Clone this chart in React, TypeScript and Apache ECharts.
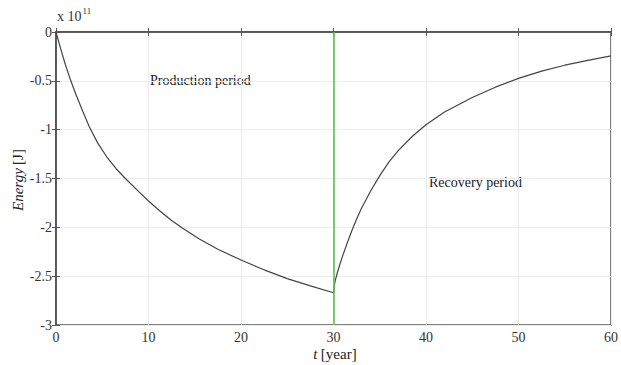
import React, { useEffect, useRef } from "react";
import * as echarts from "echarts";

// Energy in units of 1e11 J
const productionYears = [0, 0.5, 1, 1.6, 2.2, 2.9, 3.6, 4.5, 5.5, 6.5, 7.5, 9, 10, 11.2, 12.5, 13.7, 15.5, 17.5, 20, 22.5, 25, 27.5, 30];
const productionEnergy = [0, -0.17, -0.33, -0.5, -0.65, -0.815, -0.97, -1.135, -1.28, -1.4, -1.5, -1.64, -1.73, -1.83, -1.93, -2.01, -2.12, -2.225, -2.335, -2.435, -2.525, -2.6, -2.67];

const recoveryYears = [30, 30.1, 30.2, 30.4, 30.7, 31, 31.5, 32, 32.5, 33, 34, 35, 36, 37, 38.5, 40, 42, 45, 47.5, 50, 52.5, 55, 57.5, 60];
const recoveryEnergy = [-2.67, -2.59, -2.54, -2.47, -2.375, -2.29, -2.155, -2.03, -1.915, -1.81, -1.63, -1.47, -1.33, -1.215, -1.07, -0.95, -0.82, -0.67, -0.565, -0.475, -0.4, -0.34, -0.29, -0.245];

const xTicks = [0, 10, 20, 30, 40, 50, 60];
const yTicks = [0, -0.5, -1, -1.5, -2, -2.5, -3];
const switchYear = 30;

const FONT = "Liberation Serif";

export default function App() {
  const ref = useRef<HTMLDivElement>(null);

  useEffect(() => {
    if (!ref.current) return;
    const chart = echarts.init(ref.current, null, { renderer: "svg" });
    const pairs = (xs: number[], ys: number[]) => xs.map((x, i) => [x, ys[i]]);
    const axisLine = { show: true, lineStyle: { color: "#555", width: 1.5 } };
    const tick = { show: true, inside: true, length: 4, lineStyle: { color: "#555" } };

    chart.setOption({
      animation: false,
      backgroundColor: "#fff",
      grid: { left: 56, right: 7, top: 32, bottom: 40, show: true, borderColor: "#555", borderWidth: 1.5 },
      xAxis: [
        {
          type: "value",
          min: xTicks[0],
          max: xTicks[xTicks.length - 1],
          interval: 10,
          axisLine,
          axisTick: tick,
          axisLabel: { fontFamily: FONT, fontSize: 14, color: "#333", margin: 5 },
          splitLine: { show: true, lineStyle: { color: "#ececec", width: 1 } },
        },
        {
          type: "value",
          position: "top",
          min: xTicks[0],
          max: xTicks[xTicks.length - 1],
          interval: 10,
          axisLine,
          axisTick: tick,
          axisLabel: { show: false },
          splitLine: { show: false },
        },
      ],
      yAxis: [
        {
          type: "value",
          min: yTicks[yTicks.length - 1],
          max: yTicks[0],
          interval: 0.5,
          axisLine,
          axisTick: tick,
          axisLabel: { fontFamily: FONT, fontSize: 14, color: "#333", margin: 4 },
          splitLine: { show: true, lineStyle: { color: "#ececec", width: 1 } },
        },
        {
          type: "value",
          position: "right",
          min: yTicks[yTicks.length - 1],
          max: yTicks[0],
          interval: 0.5,
          axisLine,
          axisTick: tick,
          axisLabel: { show: false },
          splitLine: { show: false },
        },
      ],
      series: [
        {
          type: "line",
          data: pairs(productionYears, productionEnergy),
          smooth: false,
          showSymbol: false,
          lineStyle: { color: "#444", width: 1.2 },
          markLine: {
            silent: true,
            symbol: ["none", "none"],
            label: { show: false },
            lineStyle: { color: "#5cc04c", width: 1.6, type: "solid" },
            data: [{ xAxis: switchYear }],
          },
        },
        {
          type: "line",
          data: pairs(recoveryYears, recoveryEnergy),
          smooth: false,
          showSymbol: false,
          lineStyle: { color: "#444", width: 1.2 },
        },
      ],
      graphic: [
        {
          type: "text",
          left: 57,
          top: 6,
          style: {
            text: "{b|x 10}{s|11}",
            rich: {
              b: { fontFamily: FONT, fontSize: 14, fill: "#333", verticalAlign: "bottom", height: 20 },
              s: { fontFamily: FONT, fontSize: 9, fill: "#333", verticalAlign: "top", padding: [0, 0, 10, 1] },
            },
          },
        },
        {
          type: "text",
          x: 150,
          y: 80,
          style: { text: "Production period", fontFamily: FONT, fontSize: 14, fill: "#222", verticalAlign: "middle" },
        },
        {
          type: "text",
          x: 429,
          y: 182,
          style: { text: "Recovery period", fontFamily: FONT, fontSize: 14, fill: "#222", verticalAlign: "middle" },
        },
        {
          type: "text",
          x: 335,
          y: 354,
          style: {
            text: "{i|t} {n|[year]}",
            align: "center",
            verticalAlign: "middle",
            rich: {
              i: { fontFamily: FONT, fontStyle: "italic", fontSize: 15, fill: "#222" },
              n: { fontFamily: FONT, fontSize: 15, fill: "#222" },
            },
          },
        },
        {
          type: "text",
          x: 18,
          y: 180,
          rotation: Math.PI / 2,
          style: {
            text: "{i|Energy} {n|[J]}",
            align: "center",
            verticalAlign: "middle",
            rich: {
              i: { fontFamily: FONT, fontStyle: "italic", fontSize: 15, fill: "#222" },
              n: { fontFamily: FONT, fontSize: 15, fill: "#222" },
            },
          },
        },
      ],
    });
    return () => chart.dispose();
  }, []);

  return <div ref={ref} style={{ width: 621, height: 365, position: "absolute", left: 0, top: 0 }} />;
}
